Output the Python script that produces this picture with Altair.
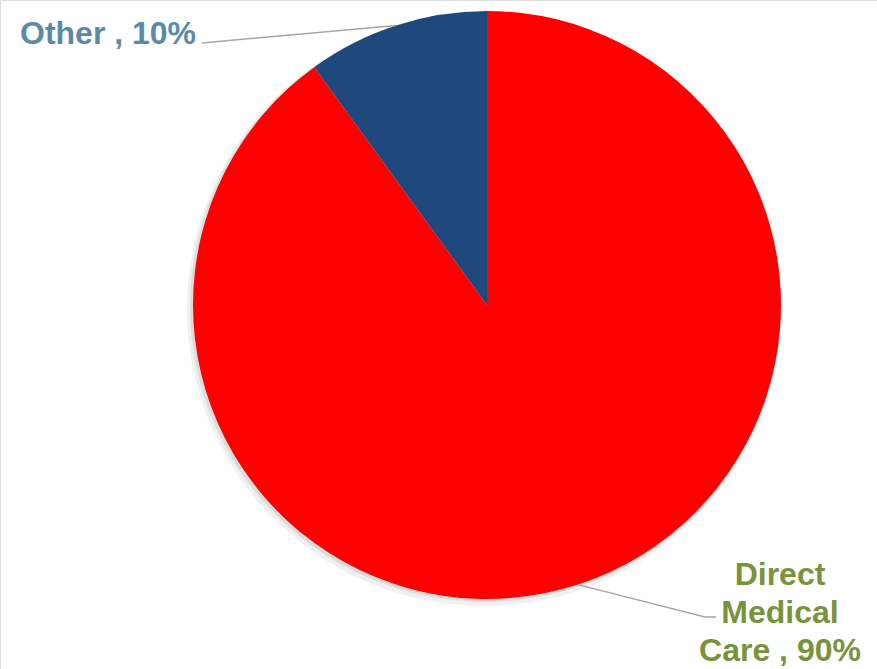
import altair as alt
import pandas as pd

categories = ["Direct Medical Care", "Other"]
values = [90, 10]
slice_colors = ["#FF0000", "#1F497D"]
label_texts = [["Direct", "Medical", "Care , 90%"], ["Other , 10%"]]
label_colors = ["#77933C", "#5B8AA6"]

df = pd.DataFrame({"idx": list(range(len(categories))), "category": categories, "value": values})

CX, CY, R = 487, 305, 294
FONT = "Liberation Sans"

color_scale = alt.Scale(domain=categories, range=slice_colors)

shadow1 = alt.Chart(df).mark_arc(outerRadius=R + 3, color="#000000", opacity=0.06).encode(
    theta=alt.Theta("value:Q", stack=True), order=alt.Order("idx:Q"),
    x=alt.value(CX - 3), y=alt.value(CY + 4))
shadow2 = alt.Chart(df).mark_arc(outerRadius=R + 1, color="#000000", opacity=0.08).encode(
    theta=alt.Theta("value:Q", stack=True), order=alt.Order("idx:Q"),
    x=alt.value(CX - 2), y=alt.value(CY + 2))

pie = alt.Chart(df).mark_arc(outerRadius=R).encode(
    theta=alt.Theta("value:Q", stack=True),
    color=alt.Color("category:N", scale=color_scale, legend=None),
    order=alt.Order("idx:Q"),
    x=alt.value(CX), y=alt.value(CY),
)

edge = (
    alt.Chart(df)
    .transform_joinaggregate(total="sum(value)")
    .transform_window(cum="sum(value)", sort=[alt.SortField("idx")])
    .transform_calculate(mid="2*PI*(datum.cum - datum.value/2)/datum.total")
    .transform_calculate(ex=f"{CX} + {R}*sin(datum.mid)", ey=f"{CY} - {R}*cos(datum.mid)")
)

rule_other = edge.transform_filter("datum.category == 'Other'").mark_rule(
    color="#A6A6A6", strokeWidth=1.5).encode(
    x=alt.X("ex:Q", scale=None, axis=None), y=alt.Y("ey:Q", scale=None, axis=None),
    x2=alt.value(202), y2=alt.value(43))

rule_dmc = edge.transform_filter("datum.category == 'Direct Medical Care'").mark_rule(
    color="#A6A6A6", strokeWidth=1.5).encode(
    x=alt.X("ex:Q", scale=None, axis=None), y=alt.Y("ey:Q", scale=None, axis=None),
    x2=alt.value(705), y2=alt.value(617))
rule_dmc2 = alt.Chart(df).transform_filter("datum.idx == 0").mark_rule(
    color="#A6A6A6", strokeWidth=1.5).encode(
    x=alt.value(705), x2=alt.value(716), y=alt.value(617))

text_other = alt.Chart(df).transform_filter("datum.idx == 1").mark_text(
    text=label_texts[1], font=FONT, fontSize=32, fontWeight="bold",
    color=label_colors[1], align="left", baseline="alphabetic").encode(
    x=alt.value(20), y=alt.value(44))

text_dmc = alt.Chart(df).transform_filter("datum.idx == 0").mark_text(
    text=label_texts[0], font=FONT, fontSize=32, fontWeight="bold", lineHeight=38,
    color=label_colors[0], align="center", baseline="alphabetic").encode(
    x=alt.value(780), y=alt.value(585))

chart = alt.layer(
    shadow1, shadow2, pie, rule_other, rule_dmc, rule_dmc2, text_other, text_dmc
).properties(
    width=877, height=669, padding=0, autosize=alt.AutoSizeParams(type="none")
).configure_view(stroke=None).configure(background="white")

chart.save("out.html", embed_options={"renderer": "svg", "actions": False})
